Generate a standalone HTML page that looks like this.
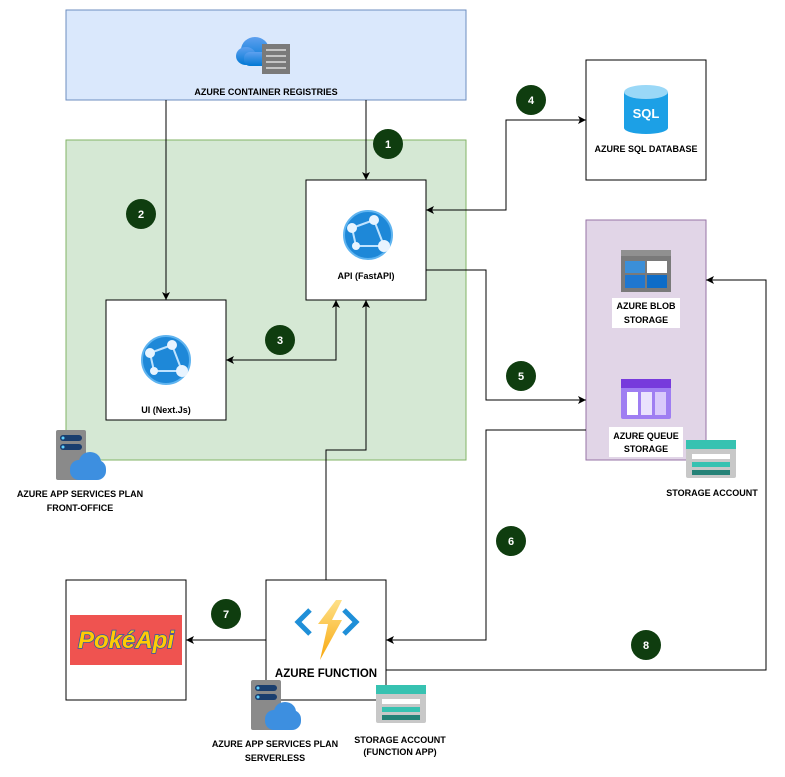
<!DOCTYPE html>
<html><head><meta charset="utf-8"><style>
html,body{margin:0;padding:0;background:#fff}
svg{display:block;font-family:"Liberation Sans",Arial,sans-serif}
.l{font-size:9px;font-weight:bold;text-anchor:middle;fill:#000}
.n{font-size:11px;font-weight:bold;text-anchor:middle;fill:#fff}
</style></head><body>
<svg width="785" height="777" viewBox="0 0 785 777" xmlns="http://www.w3.org/2000/svg">
<defs>
<marker id="a" markerWidth="10" markerHeight="10" refX="8" refY="5" orient="auto-start-reverse" markerUnits="userSpaceOnUse">
<path d="M0,1 L8,5 L0,9 L2,5 Z" fill="#000"/></marker>
<linearGradient id="cl" x1="0" y1="0" x2="0" y2="1"><stop offset="0" stop-color="#5ea0ef"/><stop offset="1" stop-color="#0078d4"/></linearGradient>
<linearGradient id="bolt" x1="0" y1="0" x2="0" y2="1"><stop offset="0" stop-color="#fee087"/><stop offset="1" stop-color="#f8a80e"/></linearGradient>
</defs>
<!-- containers -->
<rect x="66" y="10" width="400" height="90" fill="#dae8fc" stroke="#6c8ebf"/>
<rect x="66" y="140" width="400" height="320" fill="#d5e8d4" stroke="#82b366"/>
<rect x="586" y="220" width="120" height="240" fill="#e1d5e7" stroke="#9673a6"/>
<rect x="306" y="180" width="120" height="120" fill="#fff" stroke="#000"/>
<rect x="106" y="300" width="120" height="120" fill="#fff" stroke="#000"/>
<rect x="586" y="60" width="120" height="120" fill="#fff" stroke="#000"/>
<rect x="66" y="580" width="120" height="120" fill="#fff" stroke="#000"/>
<rect x="266" y="580" width="120" height="120" fill="#fff" stroke="#000"/>

<!-- connectors -->
<g fill="none" stroke="#000" stroke-width="1">
<path d="M366,100 V180" marker-end="url(#a)"/>
<path d="M166,100 V300" marker-end="url(#a)"/>
<path d="M426,210 H506 V120 H586" marker-start="url(#a)" marker-end="url(#a)"/>
<path d="M426,270 H486 V400 H586" marker-end="url(#a)"/>
<path d="M336,300 V360 H226" marker-start="url(#a)" marker-end="url(#a)"/>
<path d="M326,580 V450 H366 V300" marker-end="url(#a)"/>
<path d="M586,430 H486 V640 H386" marker-end="url(#a)"/>
<path d="M386,670 H766 V280 H706" marker-end="url(#a)"/>
<path d="M266,640 H186" marker-end="url(#a)"/>
</g>

<!-- ACR icon -->
<g>
<ellipse cx="255" cy="50" rx="14" ry="13" fill="url(#cl)"/>
<ellipse cx="246" cy="56" rx="10" ry="9" fill="url(#cl)"/>
<rect x="244" y="52" width="30" height="14" rx="6" fill="url(#cl)"/>
<rect x="262" y="44" width="28" height="30" fill="#7a7a7a"/>
<g stroke="#ddd" stroke-width="1.5"><path d="M266,50h20M266,56h20M266,62h20M266,68h20"/></g>
</g>
<text class="l" x="266" y="95">AZURE CONTAINER REGISTRIES</text>

<!-- app service icons (web) -->
<g id="web">
<circle cx="368" cy="235" r="24" fill="#1e88d8"/>
<circle cx="368" cy="235" r="24" fill="none" stroke="#5fb4f0" stroke-width="2"/>
<path d="M352,228 L374,220 M356,246 L384,246 M374,220 L384,246 M352,228 L356,246" stroke="#bfe3ff" stroke-width="2"/>
<circle cx="352" cy="228" r="5" fill="#e8f4ff"/><circle cx="374" cy="220" r="5" fill="#e8f4ff"/>
<circle cx="384" cy="246" r="6" fill="#e8f4ff"/><circle cx="356" cy="246" r="4" fill="#e8f4ff"/>
</g>
<use href="#web" transform="translate(-202,125)"/>
<text class="l" x="366" y="279">API (FastAPI)</text>
<text class="l" x="166" y="413">UI (Next.Js)</text>

<!-- SQL icon -->
<g>
<rect x="624" y="92" width="44" height="36" fill="#1ca0e6"/>
<ellipse cx="646" cy="128" rx="22" ry="6" fill="#1ca0e6"/>
<ellipse cx="646" cy="92" rx="22" ry="7" fill="#9ad8f7"/>
<text x="646" y="118" font-size="13" font-weight="bold" fill="#fff" text-anchor="middle">SQL</text>
</g>
<text class="l" x="646" y="152">AZURE SQL DATABASE</text>

<!-- Blob -->
<rect x="621" y="250" width="50" height="42" fill="#7a7a7a"/>
<rect x="621" y="250" width="50" height="6" fill="#909090"/>
<rect x="625" y="261" width="20" height="12" fill="#3b8fd8"/><rect x="647" y="261" width="20" height="12" fill="#fff"/>
<rect x="625" y="275" width="20" height="13" fill="#1f77d0"/><rect x="647" y="275" width="20" height="13" fill="#0d6cc7"/>
<rect x="612" y="298" width="68" height="30" fill="#fff"/>
<text class="l" x="646" y="309">AZURE BLOB</text><text class="l" x="646" y="323">STORAGE</text>

<!-- Queue -->
<rect x="621" y="379" width="50" height="40" rx="2" fill="#9f7ef2"/>
<rect x="621" y="379" width="50" height="9" fill="#773adc"/>
<rect x="627" y="392" width="11" height="23" fill="#fff"/><rect x="641" y="392" width="11" height="23" fill="#eae2fd"/><rect x="655" y="392" width="11" height="23" fill="#d9c9fb"/>
<rect x="609" y="427" width="74" height="30" fill="#fff"/>
<text class="l" x="646" y="439">AZURE QUEUE</text><text class="l" x="646" y="452">STORAGE</text>

<!-- Storage account icons -->
<g id="sa">
<rect x="686" y="440" width="50" height="38" rx="2" fill="#c8c8c8"/>
<rect x="686" y="440" width="50" height="9" fill="#37c2b1"/>
<rect x="692" y="454" width="38" height="5" fill="#fff"/>
<rect x="692" y="462" width="38" height="5" fill="#37c2b1"/>
<rect x="692" y="470" width="38" height="5" fill="#258277"/>
</g>
<text class="l" x="712" y="496">STORAGE ACCOUNT</text>
<use href="#sa" transform="translate(-310,245)"/>
<text class="l" x="400" y="743">STORAGE ACCOUNT</text><text class="l" x="400" y="755">(FUNCTION APP)</text>

<!-- App service plan icons -->
<g id="asp">
<rect x="56" y="430" width="30" height="50" rx="2" fill="#8a8a8a"/>
<rect x="60" y="435" width="22" height="6" rx="3" fill="#1a3e6e"/><rect x="60" y="444" width="22" height="6" rx="3" fill="#1a3e6e"/>
<circle cx="63" cy="438" r="1.5" fill="#5fd0ff"/><circle cx="63" cy="447" r="1.5" fill="#5fd0ff"/>
<ellipse cx="90" cy="462" rx="11" ry="10" fill="#3d8fe0"/>
<rect x="70" y="460" width="36" height="20" rx="9" fill="#3d8fe0"/>
</g>
<text class="l" x="80" y="497">AZURE APP SERVICES PLAN</text><text class="l" x="80" y="511">FRONT-OFFICE</text>
<use href="#asp" transform="translate(195,250)"/>
<text class="l" x="275" y="747">AZURE APP SERVICES PLAN</text><text class="l" x="275" y="761">SERVERLESS</text>

<!-- Azure function icon -->
<path d="M310,610 L298,622 L310,634" fill="none" stroke="#1f8fd8" stroke-width="5"/>
<path d="M344,610 L356,622 L344,634" fill="none" stroke="#1f8fd8" stroke-width="5"/>
<path d="M336,600 L318,624 L328,624 L320,660 L342,620 L332,620 L342,600 Z" fill="url(#bolt)"/>
<text x="326" y="677" font-size="11.5" font-weight="bold" text-anchor="middle">AZURE FUNCTION</text>

<!-- PokeAPI -->
<rect x="70" y="615" width="112" height="50" fill="#ef5350"/>
<text x="126" y="648" font-size="24" font-weight="bold" font-style="italic" text-anchor="middle" fill="#ffcb05" stroke="#2a5aa8" stroke-width="1.5" paint-order="stroke">PokéApi</text>

<!-- number badges -->
<g fill="#0f3d0f">
<circle cx="388" cy="144" r="15"/><circle cx="141" cy="214" r="15"/><circle cx="280" cy="340" r="15"/>
<circle cx="531" cy="100" r="15"/><circle cx="521" cy="376" r="15"/><circle cx="511" cy="541" r="15"/>
<circle cx="226" cy="614" r="15"/><circle cx="646" cy="645" r="15"/>
</g>
<text class="n" x="388" y="148">1</text><text class="n" x="141" y="218">2</text><text class="n" x="280" y="344">3</text>
<text class="n" x="531" y="104">4</text><text class="n" x="521" y="380">5</text><text class="n" x="511" y="545">6</text>
<text class="n" x="226" y="618">7</text><text class="n" x="646" y="649">8</text>
</svg>
</body></html>
